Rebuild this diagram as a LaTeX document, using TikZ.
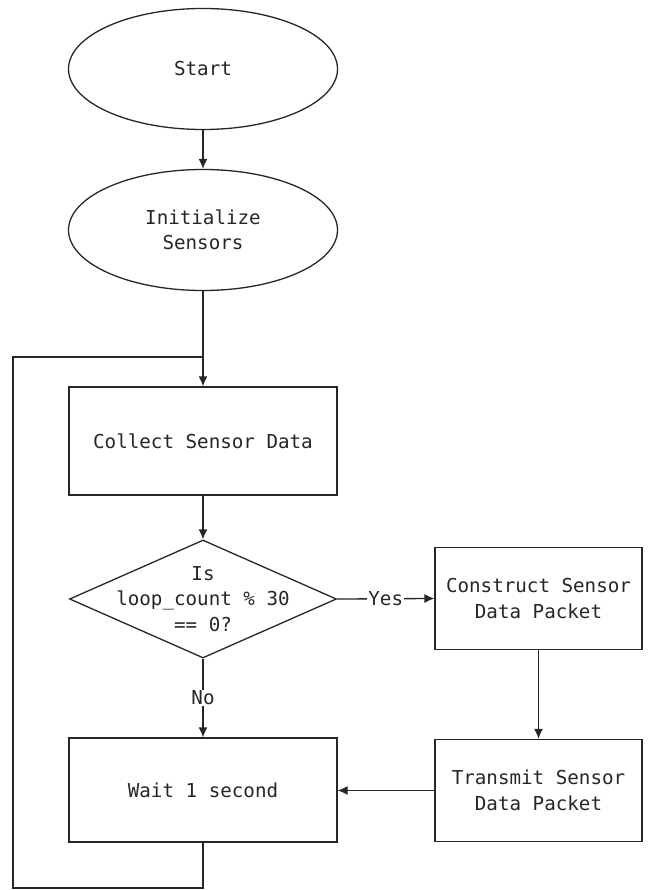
\documentclass[tikz,border=0pt]{standalone}
\usepackage{fontspec}
\setmonofont{DejaVu Sans Mono}
\usetikzlibrary{shapes.geometric,arrows.meta}
\tikzset{
  base/.style={draw=black!85, line width=1.3pt, font=\ttfamily\fontsize{19.2}{25.5}\selectfont, align=center, inner sep=0pt, text=black!85},
  oval/.style={base, ellipse, minimum width=269pt, minimum height=121pt},
  procbox/.style={base, rectangle, minimum width=268pt, minimum height=108pt},
  sidebox/.style={base, rectangle, minimum width=207pt, minimum height=102pt},
  decision/.style={base, diamond, minimum width=267pt, minimum height=118pt},
  txt/.style={font=\ttfamily\fontsize{19.2}{25.5}\selectfont, align=center, inner sep=0pt, text=black!85},
  conn/.style={draw=black!85, line width=1.3pt, -{Latex[length=10pt,width=9pt]}},
  plain/.style={draw=black!85, line width=1.3pt},
  lbl/.style={txt, fill=white, inner sep=1pt},
}
\begin{document}
\begin{tikzpicture}[x=1pt,y=-1pt]
\useasboundingbox (0,0) rectangle (648,890);
\node[oval] (start) at (203,69) {Start};
\node[oval] (init) at (203,230) {Initialize\\Sensors};
\node[procbox] (collect) at (203,441) {Collect Sensor Data};
\node[decision] (dec) at (203,599) {};
\node[txt] (dectext) at (203,599) {Is\\loop\_count \% 30\\== 0?};
\node[sidebox] (construct) at (538.5,598.5) {Construct Sensor\\Data Packet};
\node[sidebox] (transmit) at (538.5,790.5) {Transmit Sensor\\Data Packet};
\node[procbox, minimum height=104pt] (wait) at (203,790) {Wait 1 second};
\coordinate (join) at (203,357);
\coordinate (lb) at (203,888);
\coordinate (lbl) at (13,888);
\coordinate (ltl) at (13,357);

\draw[conn] (start) -- (init);
\draw[plain] (init) -- (join);
\draw[conn] (join) -- (collect);
\draw[conn] (collect) -- (dec.north);
\draw[conn] (dec.east) -- node[lbl] {Yes} (construct.west);
\draw[conn] (dec.south) -- node[lbl] {No} (wait.north);
\draw[conn] (construct) -- (transmit);
\draw[conn] (transmit.west) -- (wait.east |- transmit.west);
\draw[plain] (wait.south) -- (lb) -- (lbl) -- (ltl) -- (join);
\end{tikzpicture}
\end{document}
